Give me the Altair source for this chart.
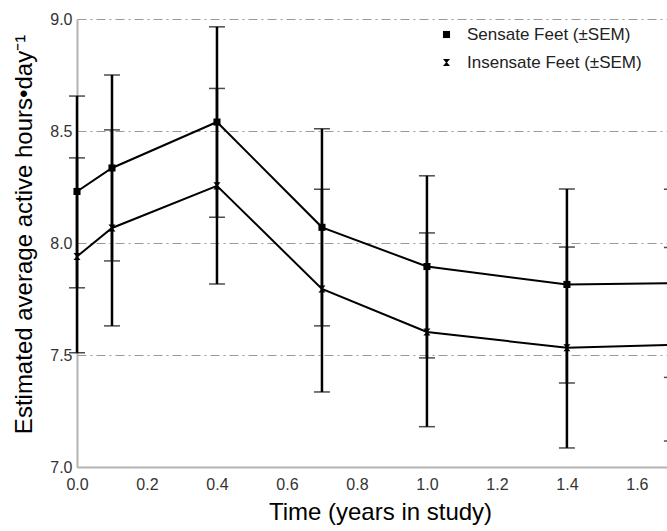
import altair as alt
import pandas as pd

times = [0.0, 0.1, 0.4, 0.7, 1.0, 1.4, 1.7]
sensate_mean = [8.23, 8.335, 8.54, 8.07, 7.895, 7.815, 7.82]
sensate_lo = [7.80, 7.92, 8.115, 7.63, 7.487, 7.375, 7.40]
sensate_hi = [8.656, 8.75, 8.965, 8.51, 8.30, 8.241, 8.24]
insensate_mean = [7.94, 8.067, 8.255, 7.795, 7.603, 7.532, 7.545]
insensate_lo = [7.51, 7.63, 7.817, 7.335, 7.18, 7.085, 7.116]
insensate_hi = [8.38, 8.505, 8.69, 8.24, 8.045, 7.982, 7.98]
series_names = ["Sensate Feet (±SEM)", "Insensate Feet (±SEM)"]
y_ticks = [7.0, 7.5, 8.0, 8.5, 9.0]
x_ticks = [0.0, 0.2, 0.4, 0.6, 0.8, 1.0, 1.2, 1.4, 1.6]

rows = []
for name, m, lo, hi in [
    (series_names[0], sensate_mean, sensate_lo, sensate_hi),
    (series_names[1], insensate_mean, insensate_lo, insensate_hi),
]:
    for t, a, b, c in zip(times, m, lo, hi):
        rows.append({"t": t, "mean": a, "lo": b, "hi": c, "series": name})
df = pd.DataFrame(rows)

FONT = "Liberation Sans"
hourglass = "M-1,-1L1,-1L0.15,0L1,1L-1,1L-0.15,0Z"

x = alt.X("t:Q", scale=alt.Scale(domain=[0, 1.686], nice=False),
          axis=alt.Axis(values=x_ticks, format=".1f", title="Time (years in study)",
                        grid=False, ticks=False, labelFlush=False, labelPadding=9,
                        titlePadding=8, titleX=303,
                        domain=True, domainColor="#b4b4b4", domainWidth=2))
y_axis = alt.Axis(values=y_ticks, format=".1f",
                  title="Estimated average active hours•day⁻¹",
                  grid=True, gridColor="#999999", gridDash=[9, 4, 2, 4], gridWidth=1.2,
                  ticks=False, labelFlush=False, labelPadding=5, titlePadding=13,
                  titleY=215,
                  domain=True, domainColor="#b4b4b4", domainWidth=2)
yscale = alt.Scale(domain=[7.0, 9.0], nice=False)

base = alt.Chart(df)

bars = base.mark_rule(color="black", strokeWidth=2.5).encode(
    x=x, y=alt.Y("lo:Q", scale=yscale, axis=y_axis), y2="hi:Q")
caps_lo = base.mark_tick(color="black", orient="horizontal", size=16, thickness=1.5).encode(
    x="t:Q", y=alt.Y("lo:Q"))
caps_hi = base.mark_tick(color="black", orient="horizontal", size=16, thickness=1.5).encode(
    x="t:Q", y=alt.Y("hi:Q"))
lines = base.mark_line(color="black", strokeWidth=2).encode(
    x="t:Q", y="mean:Q", detail="series:N")
points = base.mark_point(filled=True, opacity=1).encode(
    x="t:Q", y="mean:Q",
    shape=alt.Shape("series:N",
                    scale=alt.Scale(domain=series_names, range=["square", hourglass]),
                    legend=alt.Legend(title=None, orient="none", legendX=361, legendY=7,
                                      labelFont=FONT, labelFontSize=17, labelColor="#222222",
                                      labelLimit=400,
                                      symbolFillColor="black", symbolStrokeColor="black",
                                      symbolSize=50, rowPadding=10, labelOffset=12)),
    size=alt.value(50),
    color=alt.value("black"),
)

chart = alt.layer(bars, caps_lo, caps_hi, lines, points).properties(
    width=590, height=448,
    padding={"left": 77, "top": 19, "right": 0, "bottom": 64},
    autosize=alt.AutoSizeParams(type="none"),
    background="white",
).configure_view(stroke=None).configure_axis(
    labelFont=FONT, labelFontSize=16, labelColor="#333333",
    titleFont=FONT, titleFontSize=24, titleFontWeight="normal", titleColor="black",
)

chart.save("out.html", embed_options={"renderer": "svg", "actions": False})
